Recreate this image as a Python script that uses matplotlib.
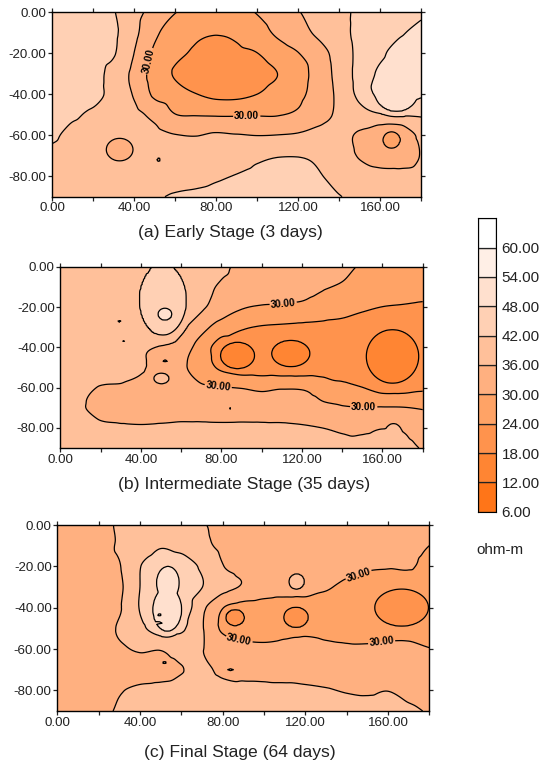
import matplotlib
matplotlib.use("Agg")
import matplotlib.pyplot as plt
import matplotlib.tri as mtri
import numpy as np

plt.rcParams['font.family'] = ['Liberation Sans', 'DejaVu Sans']

# Survey grid: distance along x and depth
grid_x = [0, 10, 20, 30, 40, 50, 60, 70, 80, 90, 100, 110, 120, 130, 140, 150, 160, 170, 180]
grid_y = [0, -10, -20, -30, -40, -50, -60, -70, -80, -90]

# Resistivity, one row per depth
rho_early = [
    [45, 45, 44, 42.3, 38, 34, 30.2, 28.5, 27.5, 28, 30.3, 33, 35.7, 38, 40.5, 43, 44, 45, 47],
    [46, 46, 45, 43, 37.5, 31.2, 27, 25, 24.3, 25, 27.5, 31, 34, 37, 40, 43.5, 45.5, 47.5, 49.5],
    [46, 46, 44.5, 42.5, 36, 29, 25.5, 23.2, 22, 22.8, 23.9, 27, 29.8, 33.5, 38.5, 43.5, 47, 50, 51],
    [46, 46, 44, 40, 34.5, 27.5, 23.5, 20.5, 19, 19.5, 21.5, 24, 27.5, 32.5, 38, 44, 49, 51, 51],
    [45.5, 45.5, 44, 40, 35.5, 29, 26.5, 24.2, 22.5, 22.5, 24, 26.5, 28.7, 32.5, 37.3, 43.5, 49.5, 51, 49],
    [44, 42.8, 41, 39.5, 37.5, 34.5, 30.2, 29.7, 29.5, 29.5, 29.6, 29.7, 31, 34, 37, 40, 41.5, 42.2, 42.6],
    [43, 40.5, 39.5, 38.2, 38.5, 37.5, 36.2, 35.8, 36.7, 36.3, 35.9, 36.1, 36.6, 37.8, 38, 35, 31.2, 30.6, 38],
    [40.5, 39.5, 38, 37.3, 37.6, 38, 38.5, 39, 39.5, 40, 41, 41.7, 41.8, 41, 39, 35.5, 33, 32.5, 36.3],
    [39.5, 39, 38.5, 38.5, 39, 39.5, 40, 40.5, 41.4, 42.2, 43, 44, 44, 42.4, 40.5, 39, 38, 38, 38.5],
    [39, 39, 39, 39.5, 40.5, 41.4, 42.5, 43, 43.5, 44, 44.5, 45, 44.5, 43.5, 42.2, 41, 40, 39.5, 39.5],
]
rho_inter = [
    [38, 38, 38.5, 39.5, 40.5, 42.8, 41, 39, 37, 35, 34.3, 33.5, 32.8, 32, 31, 29.6, 29, 28.5, 28],
    [38, 38, 38.5, 39.5, 41.9, 45, 42.2, 38, 35.3, 34, 33, 32, 31.3, 30.4, 29.5, 28.5, 28, 27, 26.5],
    [38, 38, 38.5, 39.5, 42, 47, 43, 37, 33.5, 30.5, 29.5, 29.3, 29, 28, 26.5, 25, 23.9, 23.5, 23],
    [38, 38, 38.5, 39.5, 40.5, 43.5, 37.5, 32, 27.5, 24.7, 23.6, 23.2, 22.8, 22.5, 22.2, 21, 20, 20, 20],
    [38, 38, 38, 38, 36.8, 35.5, 33, 27.5, 21, 20.5, 20.5, 20.5, 20.5, 21, 21, 20.5, 20, 20, 20],
    [38, 38, 38, 38, 36.4, 34.5, 31.2, 27, 23, 21, 21, 20.5, 20.5, 21, 21.5, 21, 20, 20, 21],
    [38, 37, 35.8, 35.5, 35, 34.5, 32.5, 30.7, 30.3, 29.8, 29, 29.6, 29.5, 28, 25.5, 24.1, 22, 22, 23],
    [38, 36.5, 34.5, 33.5, 33.5, 33.5, 33.5, 33.3, 33, 33, 32.8, 32.5, 32, 31, 30.5, 30.1, 30.3, 30.2, 29.6],
    [39, 38.5, 37, 36.7, 36.5, 36.7, 37, 37, 36.9, 37, 37, 37, 36.6, 36, 35.3, 35, 35.8, 35.3, 32.5],
    [40, 40, 39, 38.5, 38.5, 38.5, 38.5, 38.5, 38, 38.5, 38.5, 38.5, 38, 37.5, 37, 37.5, 38, 38, 35.5],
]
rho_final = [
    [33, 33, 34.5, 36.5, 37.5, 38, 37.7, 36.3, 35, 34, 33.5, 33.5, 33.5, 33, 33, 33, 32.5, 32.5, 32.5],
    [33, 33, 34.5, 36.5, 38.5, 41.5, 40, 37.3, 35, 34, 33.5, 33.5, 33.5, 33, 33, 32.5, 32, 32, 30],
    [33, 33, 34, 35.7, 41.8, 45.5, 45.5, 41, 36.2, 34.5, 34, 34, 33.5, 33, 32, 30.7, 30.4, 30.6, 28],
    [33, 33, 33.5, 35, 42, 46.5, 46, 42.1, 38, 35.5, 33.5, 33, 33, 30.8, 28.5, 27.5, 26.5, 26, 27],
    [33, 33, 33.5, 35.5, 42.3, 47, 46, 37.5, 30.2, 28, 27.5, 27, 27, 27, 27, 26.5, 25.5, 25.5, 26],
    [33, 33, 33.5, 36.6, 40.5, 45, 43, 36.5, 29, 27.5, 27, 28, 28.5, 28, 27.5, 27, 27.5, 27.5, 27],
    [33, 33, 33.5, 35, 36.7, 36.3, 38, 36.2, 34, 32, 31.5, 32, 32.5, 31.5, 31, 31, 31.5, 31.5, 30.2],
    [33, 33, 33, 33, 33.5, 34, 35.8, 37, 35, 34.7, 34.5, 34.2, 34.2, 34, 33.8, 33.7, 33.5, 33.5, 33],
    [33, 33, 33.5, 35.6, 37, 37.5, 38, 38.5, 37.5, 37, 37, 37, 36.7, 36.3, 35.7, 35.4, 35.9, 34.5, 33.5],
    [33, 33, 34.5, 36.6, 38, 38.5, 39, 39, 39, 39, 39, 39, 39, 38.5, 38, 38, 38, 37, 35.5],
]

# Small closed contours the grid is too coarse for: x, depth, half width, half height, contour level, centre value
closed_early = [(33, -67, 6.5, 5.5, 36, 33), (165.6, -62.3, 4, 4, 30, 28), (52, -72, 0.8, 1, 36, 35),
                (168, -39, 10.5, 9.5, 48, 50)]
closed_inter = [(51, -16.5, 11.5, 17.3, 42, 46), (52, -23.5, 3.5, 3, 48, 50), (50.3, -55.4, 3.8, 2.7, 36, 37.5),
                (52, -46.8, 1.2, 0.6, 36, 36.5), (29.3, -27, 0.9, 0.5, 36, 35.5), (31.3, -36.8, 0.6, 0.4, 36, 35.5),
                (84.3, -70.3, 0.5, 0.5, 30, 29.5), (88, -44, 8.5, 6.6, 18, 15.5), (114.5, -43, 9.5, 6.6, 18, 15.5),
                (165, -44.5, 13, 13.3, 18, 14), (165.5, -84, 4.5, 6.2, 36, 37.5)]
closed_final = [(86, -44.8, 4.6, 4, 24, 22.5), (115.5, -44.7, 6, 5, 24, 22), (166.6, -40, 13, 9, 24, 21),
                (115.8, -27.4, 3.8, 3.8, 36, 37.5), (53.5, -28, 5.5, 8, 48, 50), (53.2, -41, 7, 10.5, 48, 50),
                (51.8, -66.6, 1.1, 0.5, 36, 36.5), (83.9, -70, 1.5, 0.6, 36, 36.5), (49.5, -43.5, 0.9, 0.6, 48, 47.5),
                (48.5, -47.3, 2.5, 0.5, 48, 47.5)]

# Where the 30.00 labels sit on the contours
labels_early = [(48, -24), (95, -51.5)]
labels_inter = [(110.8, -19), (78.5, -58.6), (150.7, -69.7)]
labels_final = [(146, -24.5), (88, -55), (157, -57)]

levels = [6, 12, 18, 24, 30, 36, 42, 48, 54, 60, 66]
colors = ['#FF7518', '#FF8533', '#FF934D', '#FFA366', '#FFB080',
          '#FFC09A', '#FFD0B4', '#FFE0CE', '#FFEFE6', '#FFFFFF']
captions = ['(a) Early Stage (3 days)', '(b) Intermediate Stage (35 days)', '(c) Final Stage (64 days)']

W, H = 552, 764


def px_axes(left, top, right, bottom):
    return fig.add_axes([left / W, 1 - bottom / H, (right - left) / W, (bottom - top) / H])


def add_closed(tri, z, closed):
    # put the small contours into the refined field, each crossing its level on an ellipse
    for cx, cy, rx, ry, level, centre in closed:
        r = np.hypot((tri.x - cx) / rx, (tri.y - cy) / ry)
        s = np.sign(centre - level)
        inner = centre + (level - centre) * r ** 2
        t = np.clip((r - 1) / 0.3, 0, 1)
        band = level * (1 - t) + z * t
        new = np.where(r < 1, inner, band)
        z = np.where((r < 1.3) & (s * (new - z) > 0), new, z)
    return z


def draw_panel(ax, rho, closed, label_pos):
    gx, gy = np.meshgrid(grid_x, grid_y)
    x = gx.ravel().astype(float)
    y = gy.ravel().astype(float)
    z = np.array(rho, dtype=float).ravel()
    tri = mtri.Triangulation(x, y)
    interp = mtri.CubicTriInterpolator(tri, z, kind='geom')
    tri_fine, z_fine = mtri.UniformTriRefiner(tri).refine_field(z, triinterpolator=interp, subdiv=4)
    z_fine = add_closed(tri_fine, z_fine, closed)
    ax.tricontourf(tri_fine, z_fine, levels=levels, colors=colors)
    ax.tricontour(tri_fine, z_fine, levels=[v for v in levels[:-1] if v != 30], colors='black', linewidths=0.9)
    line30 = ax.tricontour(tri_fine, z_fine, levels=[30], colors='black', linewidths=0.9)
    texts = ax.clabel(line30, fmt='%.2f', manual=label_pos, fontsize=7.2, inline=True, inline_spacing=1)
    for t in texts:
        t.set_fontweight('bold')
    ax.set_xlim(0, 180)
    ax.set_ylim(-90, 0)
    ax.set_xticks(grid_x[::2])
    ax.set_xticklabels(['%.2f' % v if v % 40 == 0 and v < 180 else '' for v in grid_x[::2]])
    ax.set_yticks(grid_y[:-1:2])
    ax.set_yticklabels(['%.2f' % abs(v) if v == 0 else '%.2f' % v for v in grid_y[:-1:2]])
    ax.tick_params(top=True, right=True, length=3, width=0.9, pad=1, labelsize=9.6, colors='#222222')
    for s in ax.spines.values():
        s.set_linewidth(1.0)


fig = plt.figure(figsize=(W / 100, H / 100), dpi=100)

ax_a = px_axes(52, 12.3, 421, 196.7)
ax_b = px_axes(60.3, 267, 422.7, 448)
ax_c = px_axes(57.3, 525, 429.3, 711)

draw_panel(ax_a, rho_early, closed_early, labels_early)
draw_panel(ax_b, rho_inter, closed_inter, labels_inter)
draw_panel(ax_c, rho_final, closed_final, labels_final)

fig.text(230 / W, 1 - 233 / H, captions[0], ha='center', va='center', fontsize=12.6, color='#222222')
fig.text(244 / W, 1 - 485 / H, captions[1], ha='center', va='center', fontsize=12.6, color='#222222')
fig.text(239.5 / W, 1 - 752.7 / H, captions[2], ha='center', va='center', fontsize=12.6, color='#222222')

# colour key
cax = px_axes(478.3, 218.3, 496, 511.7)
cax.bar([0] * (len(levels) - 1), [6] * (len(levels) - 1), bottom=levels[:-1], width=1, color=colors,
        edgecolor='#222222', linewidth=0.9)
cax.set_xlim(-0.5, 0.5)
cax.set_ylim(6, 66)
cax.set_xticks([])
cax.yaxis.tick_right()
cax.set_yticks(levels[:-1])
cax.set_yticklabels(['%.2f' % v for v in levels[:-1]])
cax.tick_params(length=0, pad=4, labelsize=11, colors='#222222')

fig.text(500 / W, 1 - 550 / H, 'ohm-m', ha='center', va='center', fontsize=11, color='#222222')

fig.savefig('out.png', dpi=100)
